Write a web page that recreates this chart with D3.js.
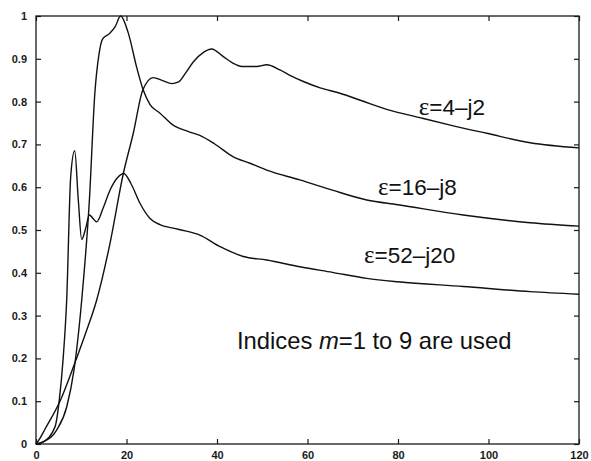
<!DOCTYPE html>
<html>
<head>
<meta charset="utf-8">
<script src="https://cdn.jsdelivr.net/npm/d3@7"></script>
<style>
  html, body { margin: 0; padding: 0; background: #fff; }
  svg { display: block; }
</style>
</head>
<body>
<svg id="chart" width="591" height="461"></svg>
<script>
// ---- data ----
const xTicks = [0, 20, 40, 60, 80, 100, 120];
const yTicks = [0, 0.1, 0.2, 0.3, 0.4, 0.5, 0.6, 0.7, 0.8, 0.9, 1];
const yTickLabels = ["0", "0.1", "0.2", "0.3", "0.4", "0.5", "0.6", "0.7", "0.8", "0.9", "1"];

// eps = 4 - j2
const xA = [0, 0.9, 2, 5.3, 8.6, 11, 13.4, 16.3, 19.3, 21.5, 23.6, 25.9, 28, 30, 31.5, 33, 34.8, 37, 38.8, 41.4, 43.5, 45.5, 48.8, 51, 53.9, 56, 59.1, 62.8, 67, 72, 77.5, 85, 92, 99.6, 109.2, 120];
const yA = [0, 0.014, 0.035, 0.1, 0.19, 0.26, 0.336, 0.466, 0.632, 0.726, 0.827, 0.856, 0.849, 0.842, 0.846, 0.866, 0.893, 0.915, 0.923, 0.905, 0.89, 0.882, 0.882, 0.886, 0.874, 0.862, 0.847, 0.832, 0.82, 0.802, 0.782, 0.762, 0.744, 0.726, 0.704, 0.692];

// eps = 16 - j8
const xB = [0, 1.6, 4.6, 6.8, 8.4, 10.1, 11.8, 13.0, 13.9, 14.7, 16.35, 17.5, 18.7, 20.4, 22.25, 23.7, 25.2, 27.4, 30.3, 33.7, 36.2, 39.5, 43.6, 47.3, 51, 58.3, 65.5, 73.1, 80, 94.4, 109.2, 120];
const yB = [0, 0.005, 0.033, 0.087, 0.173, 0.336, 0.57, 0.819, 0.909, 0.946, 0.96, 0.975, 1.0, 0.96, 0.88, 0.827, 0.793, 0.773, 0.745, 0.73, 0.721, 0.701, 0.671, 0.656, 0.64, 0.617, 0.593, 0.57, 0.559, 0.535, 0.517, 0.509];

// eps = 52 - j20
const xC = [0, 1.6, 4.2, 5.15, 6.0, 6.78, 7.67, 8.55, 9.35, 10.1, 11.0, 11.8, 12.6, 13.4, 14.8, 16.35, 18, 19.4, 21, 23, 25.2, 27.5, 30, 33, 36.2, 40.7, 45.8, 51, 58.3, 65.5, 73.1, 80, 94.4, 109.2, 120];
const yC = [0, 0.005, 0.04, 0.103, 0.2, 0.336, 0.625, 0.685, 0.57, 0.478, 0.505, 0.535, 0.527, 0.519, 0.55, 0.593, 0.622, 0.632, 0.608, 0.562, 0.527, 0.512, 0.505, 0.498, 0.488, 0.461, 0.438, 0.43, 0.414, 0.401, 0.387, 0.379, 0.368, 0.356, 0.35];

const seriesNames = ["4\u2013j2", "16\u2013j8", "52\u2013j20"];
// label anchor points in data units (left / baseline)
const labelX = [84.6, 75.6, 72.5];
const labelY = [0.769, 0.582, 0.423];
const noteParts = ["Indices ", "m", "=1 to 9 are used"];
const noteX = 44.4, noteY = 0.222;

// ---- drawing ----
const W = 591, H = 461;
const margin = {left: 36, top: 16, right: 12, bottom: 17};
const svg = d3.select("#chart");
const x = d3.scaleLinear().domain([0, 120]).range([margin.left, W - margin.right]);
const y = d3.scaleLinear().domain([0, 1]).range([H - margin.bottom, margin.top]);

const tickFont = "'Liberation Sans', Arial, sans-serif";
const ink = "#1a1a1a";

function styleAxis(g) {
  g.select(".domain").remove();
  g.selectAll(".tick line").attr("stroke", ink).attr("stroke-width", 1.2);
  g.selectAll(".tick text").attr("fill", ink)
    .style("font-family", tickFont).style("font-size", "11px").style("font-weight", "bold");
}

svg.append("g").attr("transform", `translate(0,${y(0)})`)
  .call(d3.axisBottom(x).tickValues(xTicks).tickSize(-5).tickPadding(7).tickFormat(d3.format("d")))
  .call(styleAxis);
svg.append("g").attr("transform", `translate(0,${y(1)})`)
  .call(d3.axisTop(x).tickValues(xTicks).tickSize(-5).tickFormat(""))
  .call(styleAxis);
svg.append("g").attr("transform", `translate(${x(0)},0)`)
  .call(d3.axisLeft(y).tickValues(yTicks).tickSize(-5).tickPadding(9).tickFormat((d, i) => yTickLabels[i]))
  .call(styleAxis);
svg.append("g").attr("transform", `translate(${x(120)},0)`)
  .call(d3.axisRight(y).tickValues(yTicks).tickSize(-5).tickFormat(""))
  .call(styleAxis);

svg.append("rect")
  .attr("x", x(0)).attr("y", y(1))
  .attr("width", x(120) - x(0)).attr("height", y(0) - y(1))
  .attr("fill", "none").attr("stroke", ink).attr("stroke-width", 1.3);

const line = d3.line().x(d => x(d[0])).y(d => y(d[1])).curve(d3.curveMonotoneX);
const series = [
  d3.zip(xA, yA),
  d3.zip(xB, yB),
  d3.zip(xC, yC)
];
svg.append("g").selectAll("path").data(series).join("path")
  .attr("d", line)
  .attr("fill", "none")
  .attr("stroke", "#111")
  .attr("stroke-width", 1.4)
  .attr("stroke-linejoin", "round");

const labels = svg.append("g").selectAll("text").data(seriesNames).join("text")
  .attr("x", (d, i) => x(labelX[i]))
  .attr("y", (d, i) => y(labelY[i]))
  .attr("fill", "#111")
  .style("font-family", "'Liberation Sans', Arial, sans-serif")
  .style("font-size", "22.5px");
labels.append("tspan").text("\u03b5")
  .style("font-family", "'Liberation Serif', 'Times New Roman', serif")
  .style("font-size", "25px");
labels.append("tspan").text(d => "=" + d);

const note = svg.append("text")
  .attr("x", x(noteX)).attr("y", y(noteY))
  .attr("fill", "#111")
  .style("font-family", "'Liberation Sans', Arial, sans-serif")
  .style("font-size", "23.8px");
note.append("tspan").text(noteParts[0]);
note.append("tspan").text(noteParts[1]).style("font-style", "italic");
note.append("tspan").text(noteParts[2]);
</script>
</body>
</html>
